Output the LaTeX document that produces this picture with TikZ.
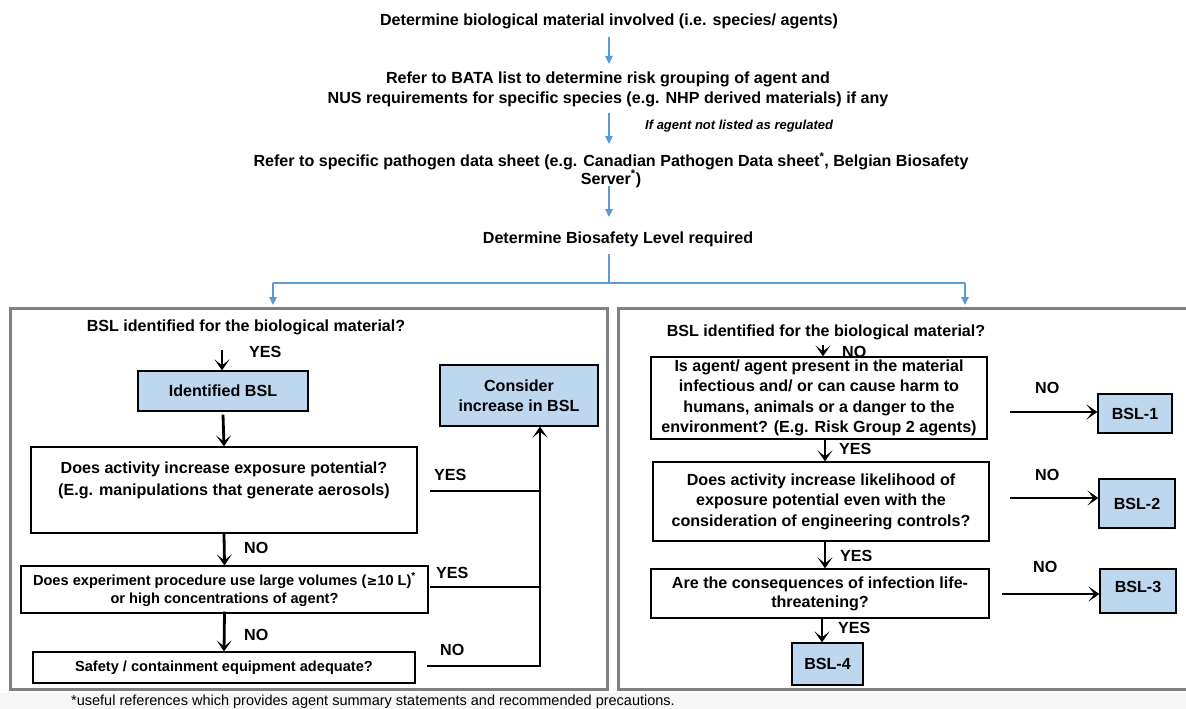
\documentclass[tikz,border=0pt]{standalone}
\usepackage{fontspec}
\setmainfont{Liberation Sans}
\usetikzlibrary{arrows.meta}
\definecolor{arrowblue}{HTML}{5B9BD5}
\definecolor{boxblue}{HTML}{BDD7EE}
\definecolor{framegray}{HTML}{808080}
\definecolor{footbg}{HTML}{F6F6F6}
\tikzset{
  txt/.style={font=\fontsize{16.1}{20}\selectfont\bfseries, align=center, inner sep=0pt},
  blueline/.style={draw=arrowblue, line width=1.3pt},
  bluearrow/.style={blueline, -{Triangle[length=8pt,width=7.5pt]}},
  blackarrow/.style={draw=black, line width=2.8pt, -{Stealth[length=11pt,width=15pt,inset=6pt]}},
  blackline/.style={draw=black, line width=2.8pt},
  qbox/.style={draw=black, line width=1.2pt, fill=white, align=center, inner sep=0pt,
    font=\fontsize{16.1}{20}\selectfont\bfseries},
  bslbox/.style={qbox, fill=boxblue},
  frame/.style={draw=framegray, line width=3pt},
  lbl/.style={font=\fontsize{16.1}{18}\selectfont\bfseries, inner sep=0pt, anchor=west},
}
\begin{document}
\begin{tikzpicture}[x=1pt,y=-1pt]
\useasboundingbox (0,0) rectangle (1186,709);
\fill[footbg] (0,693) rectangle (1186,709);
% top chain
\node[txt] (t1) at (609,21) {Determine biological material involved (i.e. species/ agents)};
\node[txt] (t2) at (608,89.5) {Refer to BATA list to determine risk grouping of agent and\\NUS requirements for specific species (e.g. NHP derived materials) if any};
\node[txt, font=\fontsize{16.1}{17.5}\selectfont\bfseries] (t3) at (611,170) {Refer to specific pathogen data sheet (e.g. Canadian Pathogen Data sheet\textsuperscript{*}, Belgian Biosafety\\Server\textsuperscript{*})};
\node[txt] (t4) at (618,239) {Determine Biosafety Level required};
\node[font=\fontsize{13}{15}\selectfont\bfseries\itshape, inner sep=0pt, anchor=west] (cond) at (645,126) {If agent not listed as regulated};
\coordinate (a1s) at (609,37);
\coordinate (a1e) at (609,64);
\draw[bluearrow] (a1s) -- (a1e);
\coordinate (a2s) at (609,113);
\coordinate (a2e) at (609,144);
\draw[bluearrow] (a2s) -- (a2e);
\coordinate (a3s) at (609,186);
\coordinate (a3e) at (609,217);
\draw[bluearrow] (a3s) -- (a3e);
\coordinate (sp) at (609,254);
\coordinate (spm) at (609,283);
\coordinate (spl) at (273,283);
\coordinate (spr) at (965,283);
\coordinate (spld) at (273,305);
\coordinate (sprd) at (965,305);
\draw[blueline] (sp) -- (spm);
\draw[blueline] (spl) -- (spr);
\draw[bluearrow] (spl) -- (spld);
\draw[bluearrow] (spr) -- (sprd);
% frames
\draw[frame] (10,308) rectangle (607,689);
\draw[frame] (618,308) rectangle (1195,689);
% left panel
\node[txt] (lq) at (246,327) {BSL identified for the biological material?};
\node[bslbox, minimum width=170pt, minimum height=40pt] (idbsl) at (223,391) {Identified BSL};
\node[qbox, minimum width=386pt, minimum height=86pt, font=\fontsize{16.1}{22}\selectfont\bfseries] (expo) at (224,490) {Does activity increase exposure potential?\\(E.g. manipulations that generate aerosols)\\\mbox{}};
\node[qbox, minimum width=407pt, minimum height=47pt, font=\fontsize{14.6}{18}\selectfont\bfseries] (vol) at (224.5,589.5) {Does experiment procedure use large volumes ({\fontspec{DejaVu Sans}\fontsize{13}{14}\selectfont ≥}10 L)\textsuperscript{*}\\or high concentrations of agent?};
\node[qbox, minimum width=382pt, minimum height=31pt, font=\fontsize{14.6}{18}\selectfont\bfseries] (safe) at (224,667.5) {Safety / containment equipment adequate?};
\node[bslbox, minimum width=158pt, minimum height=61pt] (cons) at (519,395.5) {Consider\\increase in BSL};
\coordinate (lqa) at (222,350);
\draw[blackarrow] (lqa) -- (idbsl.north -| lqa);
\draw[blackarrow] (idbsl.south) ++(0,3) -- (expo.north);
\draw[blackarrow] (expo.south) -- (vol.north);
\draw[blackarrow] ([yshift=2pt]vol.south) -- (safe.north);
\node[lbl] (y0) at (249,352) {YES};
\node[lbl] (n1) at (244,548) {NO};
\node[lbl] (n2) at (244,635) {NO};
\coordinate (cx1) at (430,491);
\coordinate (cx2) at (430,587);
\coordinate (cx3) at (427,666);
\coordinate (cv) at (540,666);
\draw[blackline] (cx1) -- (cx1 -| cv);
\draw[blackline] (cx2) -- (cx2 -| cv);
\draw[blackarrow] (cx3) -- (cv) -- (cons.south -| cv);
\node[lbl] (y1) at (434,475) {YES};
\node[lbl] (y2) at (436,573) {YES};
\node[lbl] (n3) at (440,650) {NO};
% right panel
\node[txt] (rq) at (826,332) {BSL identified for the biological material?};
\node[qbox, minimum width=336pt, minimum height=82pt, font=\fontsize{16.1}{20.3}\selectfont\bfseries] (b1) at (819,398) {Is agent/ agent present in the material\\infectious and/ or can cause harm to\\humans, animals or a danger to the\\environment? (E.g. Risk Group 2 agents)};
\node[qbox, minimum width=336pt, minimum height=79pt, font=\fontsize{16.1}{20.5}\selectfont\bfseries] (b2) at (821,501.5) {Does activity increase likelihood of\\exposure potential even with the\\consideration of engineering controls?};
\node[qbox, minimum width=338pt, minimum height=49pt, font=\fontsize{16.1}{19}\selectfont\bfseries] (b3) at (820,593.5) {Are the consequences of infection life-\\threatening?};
\node[bslbox, minimum width=74pt, minimum height=39pt] (bsl1) at (1135,413.5) {BSL-1};
\node[bslbox, minimum width=76pt, minimum height=49pt] (bsl2) at (1137,503.5) {BSL-2};
\node[bslbox, minimum width=76pt, minimum height=44pt, text depth=9pt] (bsl3) at (1138,591) {BSL-3};
\node[bslbox, minimum width=71pt, minimum height=42pt] (bsl4) at (827.5,664) {BSL-4};
\coordinate (rqa) at (823,345);
\draw[blackarrow] (rqa) -- (b1.north -| rqa);
\coordinate (r1) at (825,0);
\draw[blackarrow] (b1.south -| r1) -- (b2.north -| r1);
\draw[blackarrow] (b2.south -| r1) -- (b3.north -| r1);
\coordinate (r2) at (822,0);
\draw[blackarrow] (b3.south -| r2) -- (bsl4.north -| r2);
\coordinate (h1) at (1010,412);
\coordinate (h2) at (1010,498);
\coordinate (h3) at (1002,594);
\draw[blackarrow] (h1) -- (h1 -| bsl1.west);
\draw[blackarrow] (h2) -- (h2 -| bsl2.west);
\draw[blackarrow] (h3) -- (h3 -| bsl3.west);
\node[lbl] (rn0) at (842,352) {NO};
\node[lbl] (ry1) at (839,449) {YES};
\node[lbl] (ry2) at (840,556) {YES};
\node[lbl] (ry3) at (838,628) {YES};
\node[lbl] (rn1) at (1035,388) {NO};
\node[lbl] (rn2) at (1035,475) {NO};
\node[lbl] (rn3) at (1033,567) {NO};
% footnote
\node[font=\fontsize{14.5}{16}\selectfont, inner sep=0pt, anchor=west] (foot) at (71,702) {*useful references which provides agent summary statements and recommended precautions.};
\end{tikzpicture}
\end{document}
